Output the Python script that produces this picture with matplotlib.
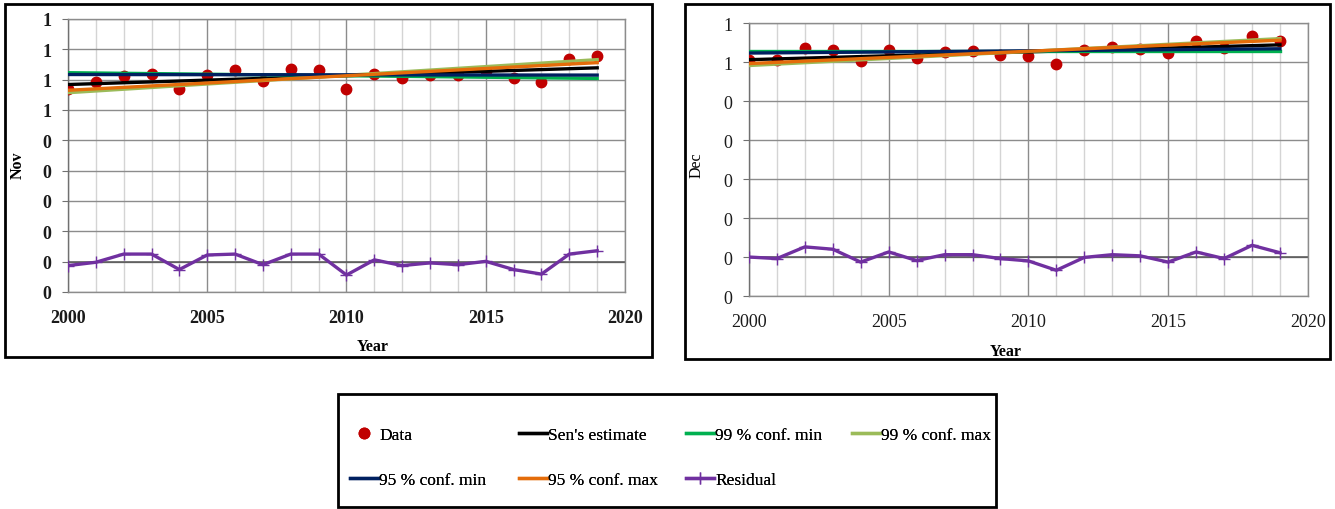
import numpy as np
import matplotlib.pyplot as plt
from matplotlib.patches import Rectangle
from matplotlib.ticker import MultipleLocator, FuncFormatter

plt.rcParams['font.family'] = ['Liberation Serif', 'DejaVu Serif']

years = np.arange(2000, 2020)
line_years = [2000, 2019]

# November values
nov_data = [0.570, 0.593, 0.612, 0.620, 0.570, 0.617, 0.633, 0.595, 0.634, 0.633,
            0.570, 0.620, 0.606, 0.617, 0.615, 0.628, 0.604, 0.593, 0.667, 0.677]
nov_resid = [-0.013, -0.002, 0.025, 0.025, -0.026, 0.022, 0.025, -0.010, 0.025, 0.025,
             -0.044, 0.006, -0.013, -0.004, -0.010, 0.001, -0.026, -0.041, 0.025, 0.036]
nov_sen = [0.584, 0.639]
nov_99min = [0.623, 0.604]
nov_99max = [0.557, 0.666]
nov_95min = [0.617, 0.615]
nov_95max = [0.565, 0.656]

# December values
dec_data = [0.506, 0.504, 0.536, 0.532, 0.503, 0.532, 0.510, 0.526, 0.528, 0.519,
            0.515, 0.494, 0.530, 0.538, 0.534, 0.523, 0.553, 0.536, 0.568, 0.554]
dec_resid = [0.000, -0.004, 0.026, 0.020, -0.013, 0.013, -0.009, 0.006, 0.006, -0.004,
             -0.010, -0.034, -0.001, 0.006, 0.003, -0.013, 0.013, -0.004, 0.030, 0.011]
dec_sen = [0.506, 0.544]
dec_99min = [0.528, 0.528]
dec_99max = [0.491, 0.560]
dec_95min = [0.523, 0.534]
dec_95max = [0.496, 0.556]

labels = ['Data', "Sen's estimate", '99 % conf. min', '99 % conf. max',
          '95 % conf. min', '95 % conf. max', 'Residual']
colors = ['#C00000', '#000000', '#00B050', '#9BBB59', '#002060', '#E46C0A', '#7030A0']

MAJOR = '#8C8C8C'
MINOR = '#D4D4D4'


def excel_int(v, pos):
    # Excel "0" number format: round half away from zero, no minus on -0
    return f'{int(np.floor(abs(v) + 0.5 + 1e-9))}'


def draw_panel(ax, data, resid, bounds, ymax, bold):
    sen, min99, max99, min95, max95 = bounds
    handles = []
    h, = ax.plot(years, data, 'o', color=colors[0], ms=7.5, zorder=3)
    handles.append(h)
    for vals, c in zip([sen, min99, max99, min95, max95], colors[1:6]):
        h, = ax.plot(line_years, vals, '-', color=c, lw=2.4, zorder=4)
        handles.append(h)
    h, = ax.plot(years, resid, '-', color=colors[6], lw=2.4, marker='+',
                 ms=9, mew=1.0, zorder=4)
    handles.append(h)

    ax.set_xlim(2000, 2020)
    ax.set_ylim(-0.1, ymax)
    ax.xaxis.set_major_locator(MultipleLocator(5))
    ax.xaxis.set_minor_locator(MultipleLocator(1))
    ax.yaxis.set_major_locator(MultipleLocator(0.1))
    ax.yaxis.set_major_formatter(FuncFormatter(excel_int))
    ax.grid(True, which='major', color=MAJOR, lw=1.0, zorder=0)
    ax.grid(True, which='minor', axis='x', color=MINOR, lw=1.0, zorder=0)
    ax.set_axisbelow(True)
    ax.axhline(0, color='#555555', lw=1.1, zorder=1)
    for s in ax.spines.values():
        s.set_color(MAJOR)
        s.set_linewidth(1.0)
    ax.spines['left'].set_color('#707070')
    ax.tick_params(axis='x', which='both', length=0, pad=12, labelsize=13)
    ax.tick_params(axis='y', length=4, color='#707070', pad=8, labelsize=13)
    w = 'bold' if bold else 'normal'
    for t in ax.get_xticklabels() + ax.get_yticklabels():
        t.set_fontweight(w)
        t.set_color('#1A1A1A')
    return handles


fig = plt.figure(figsize=(13.35, 5.1), dpi=100)

# panel frames
fig.patches.append(Rectangle((0.0037, 0.298), 0.4847, 0.692, transform=fig.transFigure,
                             fill=False, ec='black', lw=2))
fig.patches.append(Rectangle((0.5131, 0.294), 0.4832, 0.696, transform=fig.transFigure,
                             fill=False, ec='black', lw=2))
fig.patches.append(Rectangle((0.2532, 0.004), 0.4929, 0.2215, transform=fig.transFigure,
                             fill=False, ec='black', lw=2))

ax1 = fig.add_axes([0.0509, 0.4255, 0.4173, 0.5353])
handles = draw_panel(ax1, nov_data, nov_resid,
                     [nov_sen, nov_99min, nov_99max, nov_95min, nov_95max], 0.8, True)
ax2 = fig.add_axes([0.5610, 0.4176, 0.4187, 0.5353])
draw_panel(ax2, dec_data, dec_resid,
           [dec_sen, dec_99min, dec_99max, dec_95min, dec_95max], 0.6, False)

fig.text(0.0135, 0.676, 'Nov', rotation=90, ha='center', va='center',
         fontsize=11.5, fontweight='bold')
fig.text(0.5221, 0.676, 'Dec', rotation=90, ha='center', va='center', fontsize=11.5)
fig.text(0.279, 0.3196, 'Year', ha='center', va='center', fontsize=11.5, fontweight='bold')
fig.text(0.753, 0.310, 'Year', ha='center', va='center', fontsize=11.5, fontweight='bold')

# legend: four columns, as in the original layout
col_x = [0.2622, 0.3888, 0.5139, 0.6382]
col_items = [[0, 4], [1, 5], [2, 6], [3]]
for x, items in zip(col_x, col_items):
    leg = fig.legend([handles[i] for i in items], [labels[i] for i in items],
                     loc='upper left', bbox_to_anchor=(x, 0.1618), frameon=False,
                     fontsize=12.5, handlelength=1.6, handletextpad=0.08,
                     labelspacing=1.7, borderpad=0, borderaxespad=0)
    fig.add_artist(leg)

fig.savefig('out.png', dpi=100)
